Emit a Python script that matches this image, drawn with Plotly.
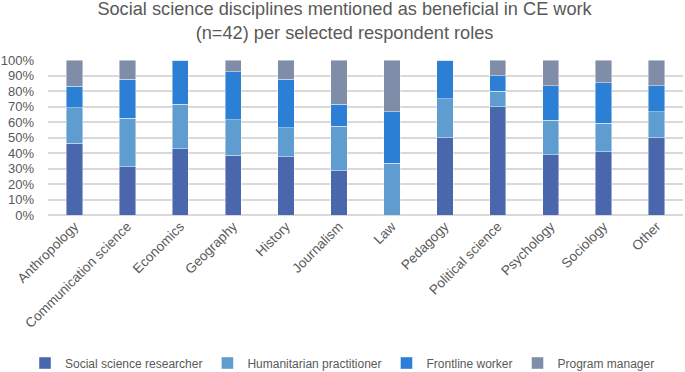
import plotly.graph_objects as go

categories = ["Anthropology", "Communication science", "Economics", "Geography", "History",
              "Journalism", "Law", "Pedagogy", "Political science", "Psychology", "Sociology", "Other"]

social_science_researcher = [0.462, 0.3125, 0.429, 0.385, 0.375, 0.286, 0.0, 0.50, 0.70, 0.389, 0.407, 0.50]
humanitarian_practitioner = [0.231, 0.3125, 0.286, 0.231, 0.1875, 0.286, 0.333, 0.25, 0.10, 0.222, 0.185, 0.167]
frontline_worker = [0.139, 0.25, 0.285, 0.307, 0.3125, 0.142, 0.334, 0.25, 0.10, 0.222, 0.260, 0.166]
program_manager = [0.168, 0.125, 0.0, 0.077, 0.125, 0.286, 0.333, 0.0, 0.10, 0.167, 0.148, 0.167]

series = [
    ("Social science researcher", social_science_researcher, "#4a66ad"),
    ("Humanitarian practitioner", humanitarian_practitioner, "#5f9dd1"),
    ("Frontline worker", frontline_worker, "#2b7fd5"),
    ("Program manager", program_manager, "#7f8da8"),
]

FONT = "Liberation Sans, Arial, sans-serif"
GREY = "#595959"

fig = go.Figure()
for name, vals, color in series:
    fig.add_trace(go.Bar(
        x=categories, y=vals, name=name,
        marker=dict(color=color, line=dict(color="rgba(255,255,255,0.55)", width=0.8)),
    ))

fig.update_layout(
    barmode="stack",
    bargap=0.69,
    width=685, height=372,
    margin=dict(l=48, r=2, t=60, b=157, autoexpand=False),
    paper_bgcolor="white", plot_bgcolor="white",
    font=dict(family=FONT, color=GREY),
    title=dict(
        text="Social science disciplines mentioned as beneficial in CE work<br>(n=42) per selected respondent roles",
        x=0.503, xanchor="center", xref="container", y=0.96, yanchor="top", yref="container",
        font=dict(size=18.2, color=GREY, family=FONT),
    ),
    xaxis=dict(
        tickangle=-45, tickfont=dict(size=13.5, color=GREY),
        showgrid=False, showline=False, ticks="", automargin=False,
    ),
    yaxis=dict(
        range=[0, 1], dtick=0.1, tickformat=".0%",
        tickfont=dict(size=13, color=GREY),
        showgrid=True, gridcolor="#d9d9d9", gridwidth=1.5,
        zeroline=True, zerolinecolor="#d9d9d9", zerolinewidth=1.5,
        ticks="", ticklen=0, automargin=False, ticklabelstandoff=13,
    ),
    legend=dict(
        orientation="h", xref="container", x=0.5, xanchor="center",
        y=-0.955, yanchor="middle",
        font=dict(size=12, color=GREY), traceorder="normal",
    ),
)

fig.write_html("out.html", config={"displayModeBar": False},
               post_script="document.body.style.margin='0';")
